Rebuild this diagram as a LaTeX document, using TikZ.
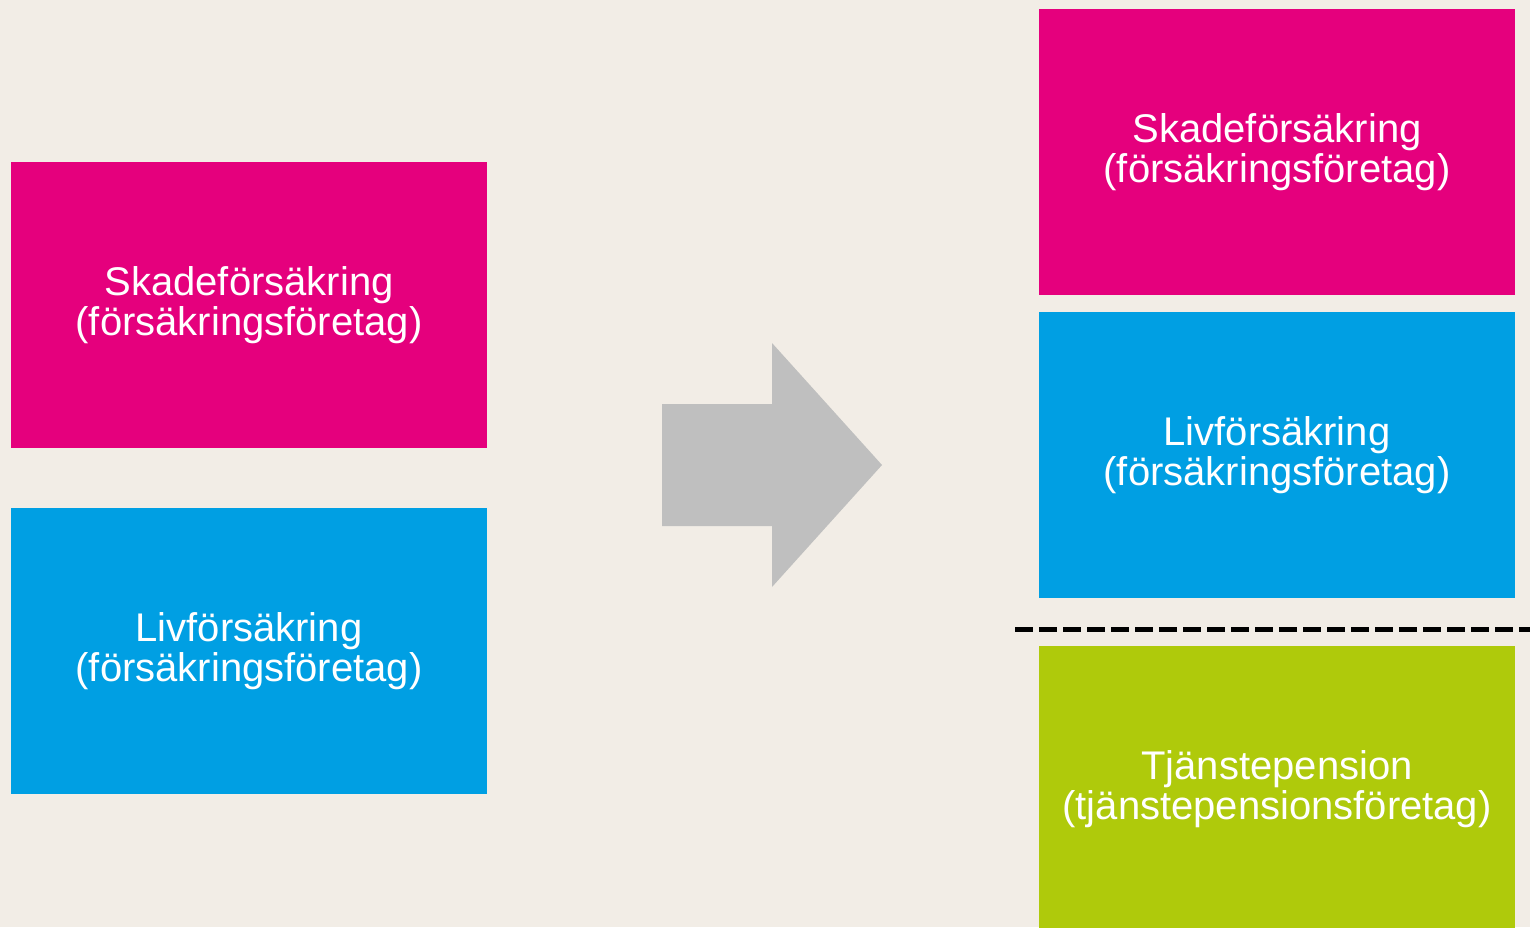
\documentclass[tikz,border=0pt]{standalone}
\usepackage{fontspec}
\setmainfont{Liberation Sans}
\definecolor{bg}{RGB}{242,237,230}
\definecolor{rosa}{RGB}{229,0,125}
\definecolor{bla}{RGB}{0,159,227}
\definecolor{gron}{RGB}{175,202,11}
\definecolor{pil}{RGB}{191,191,191}
\begin{document}
\begin{tikzpicture}[x=0.5pt,y=-0.5pt,
	ruta/.style={rectangle,minimum width=238pt,minimum height=143pt,inner sep=0pt,text=white,align=center,font=\fontsize{20}{20}\selectfont}]
		\fill[bg](0,0)rectangle(1530,927);
		\useasboundingbox(0,0)rectangle(1530,927);
		\node[ruta,fill=rosa](skadeA)at(249,305){Skadeförsäkring\\(försäkringsföretag)};
		\node[ruta,fill=bla](livA)at(249,651){Livförsäkring\\(försäkringsföretag)};
		\node[ruta,fill=rosa](skadeB)at(1277,152){Skadeförsäkring\\(försäkringsföretag)};
		\node[ruta,fill=bla](livB)at(1277,455){Livförsäkring\\(försäkringsföretag)};
		\node[ruta,fill=gron](tjp)at(1277,789){Tjänstepension\\(tjänstepensionsföretag)};
		\fill[pil](662,404)--(772,404)--(772,343)--(882,465)--(772,587)--(772,526)--(662,526)--cycle;
		\coordinate(grans1)at(1015,629);
		\coordinate(grans2)at(1530,629);
		\draw[line width=2.5pt,dash pattern=on 9pt off 3pt](grans1)--(grans2);
\end{tikzpicture}
\end{document}
